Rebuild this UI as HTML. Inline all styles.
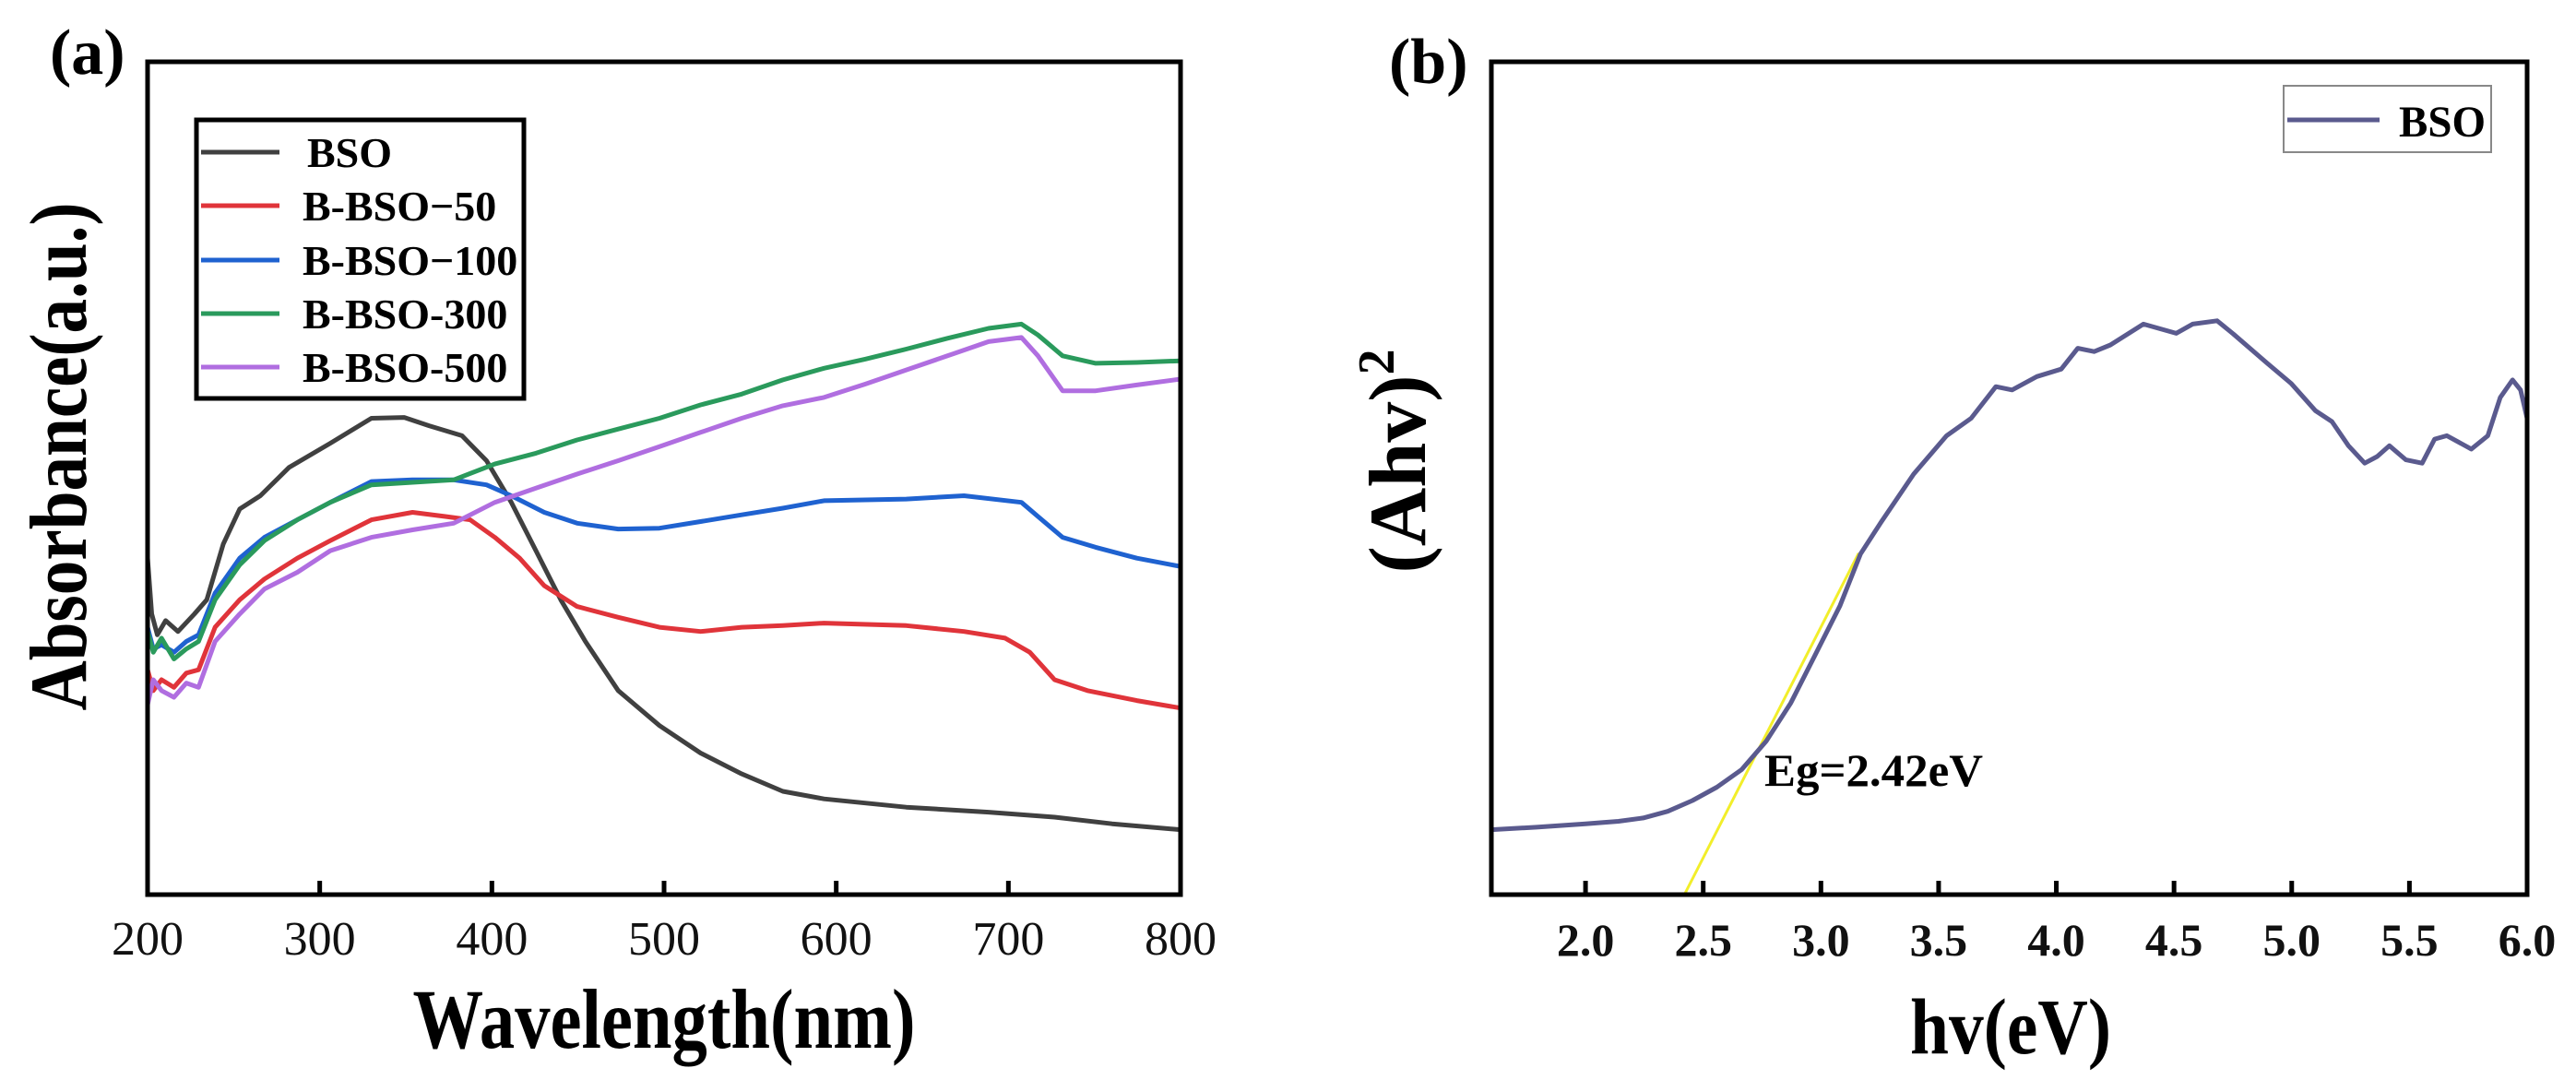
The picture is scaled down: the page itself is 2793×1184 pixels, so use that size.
<!DOCTYPE html>
<html><head><meta charset="utf-8"><style>
html,body{margin:0;padding:0;background:#fff;}
svg{display:block;}
text{font-family:"Liberation Serif",serif;}
</style></head><body>
<svg id="fig" width="2793" height="1184" viewBox="0 0 2793 1184" xmlns="http://www.w3.org/2000/svg">
<rect width="2793" height="1184" fill="#fff"/>
<g id="pa"></g>
<g id="pb"></g>
</svg>
<script>
// ---- Panel (a) data ----
const aSeriesNames = ["BSO","B-BSO\u221250","B-BSO\u2212100","B-BSO-300","B-BSO-500"];
const aColors = ["#404040","#e0343a","#1f62d0","#2a9a5c","#b06ee0"];
const aTicks = [200,300,400,500,600,700,800];
const bsoX = [200,202.4,205.7,210.5,217.7,227.2,234.4,244,253.5,265.5,282.2,306.1,330,349.1,363.5,382.6,396.9,411.3,425.6,440,454.3,473.4,497.3,521.2,545.1,569,592.9,640.7,688.5,726.8,760.2,800];
const bsoY = [40.4,33.7,31.2,32.9,31.6,33.7,35.4,42.1,46.3,47.9,51.3,54.2,57.2,57.3,56.3,55.1,52.1,47.1,41.3,35.4,30.4,24.5,20.3,17.0,14.5,12.4,11.5,10.5,9.9,9.3,8.5,7.8];
const b50X = [200,203.3,208.1,215.3,222.5,229.6,239.2,253.5,267.9,287,306.1,330,353.9,373,387.4,401.7,416.1,430.4,449.5,473.4,497.3,521.2,545.1,569,592.9,640.7,674.2,698.1,712.4,726.8,745.9,774.6,800];
const b50Y = [27.0,24.5,25.8,24.9,26.6,27.0,32.1,35.4,37.9,40.4,42.5,45.0,45.9,45.4,45.0,42.9,40.4,37.1,34.6,33.3,32.1,31.6,32.1,32.3,32.6,32.3,31.6,30.8,29.1,25.8,24.5,23.3,22.4];
const b100X = [200,203.3,208.1,215.3,222.5,229.6,239.2,253.5,267.9,287,306.1,330,353.9,377.8,396.9,411.3,430.4,449.5,473.4,497.3,521.2,545.1,569,592.9,640.7,674.2,707.6,717.2,731.5,750.7,774.6,800];
const b100Y = [32.1,29.5,30.0,29.1,30.4,31.2,36.2,40.4,42.9,45.0,47.1,49.6,49.8,49.8,49.2,47.9,45.9,44.6,43.9,44.0,44.8,45.6,46.4,47.3,47.5,47.9,47.1,45.4,42.9,41.7,40.4,39.4];
const b300X = [200,203.3,208.1,215.3,222.5,229.6,239.2,253.5,267.9,287,306.1,330,353.9,377.8,401.7,425.6,449.5,473.4,497.3,521.2,545.1,569,592.9,616.8,640.7,664.6,688.5,707.6,717.2,731.5,750.7,774.6,800];
const b300Y = [31.6,29.1,30.8,28.3,29.5,30.4,35.4,39.6,42.5,45.0,47.1,49.2,49.5,49.8,51.7,53.0,54.6,55.9,57.2,58.8,60.1,61.8,63.2,64.3,65.5,66.8,68.0,68.5,67.2,64.7,63.8,63.9,64.1];
const b500X = [200,203.3,208.1,215.3,222.5,229.6,239.2,253.5,267.9,287,306.1,330,353.9,377.8,401.7,425.6,449.5,473.4,497.3,521.2,545.1,569,592.9,616.8,640.7,664.6,688.5,707.6,717.2,731.5,750.7,774.6,800];
const b500Y = [22.8,25.8,24.5,23.7,25.4,24.9,30.4,33.7,36.7,38.7,41.3,42.9,43.8,44.6,47.1,48.8,50.5,52.1,53.8,55.5,57.2,58.7,59.7,61.3,63.0,64.7,66.4,66.9,64.7,60.5,60.5,61.2,61.9];

// ---- Panel (b) data ----
const bTicks = [2.0,2.5,3.0,3.5,4.0,4.5,5.0,5.5,6.0];
const taucX = [1.6,1.792,2.0,2.14,2.245,2.349,2.454,2.558,2.663,2.767,2.872,2.976,3.081,3.168,3.255,3.394,3.534,3.638,3.743,3.812,3.917,4.021,4.091,4.161,4.230,4.370,4.509,4.579,4.683,4.753,4.892,4.997,5.101,5.171,5.241,5.310,5.363,5.415,5.485,5.554,5.607,5.659,5.763,5.833,5.886,5.938,5.972,6.0];
const taucY = [7.8,8.1,8.5,8.8,9.2,10.0,11.3,12.9,15.0,18.4,23.0,28.8,34.7,40.9,44.7,50.5,55.1,57.2,61.0,60.6,62.2,63.1,65.6,65.2,66.0,68.5,67.4,68.5,68.9,67.3,63.9,61.4,58.1,56.8,53.9,51.8,52.6,53.9,52.2,51.8,54.7,55.1,53.5,55.1,59.7,61.8,60.6,57.2];
const fitX = [2.42,3.16];
const fitY = [0,41];
const egLabel = "Eg=2.42eV";

const NS="http://www.w3.org/2000/svg";
function mk(parent,tag,attrs,txt){const e=document.createElementNS(NS,tag);for(const k in attrs)e.setAttribute(k,attrs[k]);if(txt!==undefined)e.textContent=txt;parent.appendChild(e);return e;}

// Panel a axes
const aL=160,aR=1280,aT=67,aB=970;
const ax=v=>aL+(v-200)/600*(aR-aL);
const ay=v=>aB-v/100*(aB-aT);
const pa=document.getElementById('pa');
const aData=[[bsoX,bsoY],[b50X,b50Y],[b100X,b100Y],[b300X,b300Y],[b500X,b500Y]];
aData.forEach((d,i)=>{
  const p=d[0].map((x,j)=>ax(x).toFixed(1)+','+ay(d[1][j]).toFixed(1)).join(' ');
  const el=mk(pa,'polyline',{points:p,fill:'none',stroke:aColors[i],'stroke-width':5,'stroke-linejoin':'round'});
  
  
});
const fa=mk(pa,'rect',{x:aL,y:aT,width:aR-aL,height:aB-aT,fill:'none',stroke:'#000','stroke-width':5});


aTicks.forEach(t=>{
  const tk=mk(pa,'line',{x1:ax(t),x2:ax(t),y1:aB,y2:aB-15,stroke:'#000','stroke-width':5});
  
  
  const tl=mk(pa,'text',{x:ax(t),y:1035,'font-size':52,'text-anchor':'middle',fill:'#111'},String(t));
  
  
});
// legend a
const lga=mk(pa,'g',{});


mk(lga,'rect',{x:213,y:130,width:355,height:302,fill:'#fff',stroke:'#000','stroke-width':5});
const rowsY=[165,223,282,340,398];
aSeriesNames.forEach((n,i)=>{
  const g=mk(lga,'g',{});
  
  
  mk(g,'line',{x1:218,x2:303,y1:rowsY[i],y2:rowsY[i],stroke:aColors[i],'stroke-width':5});
  mk(g,'text',{x:i===0?333:328,y:rowsY[i]+16,'font-size':46,'font-weight':'bold',fill:'#000'},n);
});
const ta=mk(pa,'text',{x:720,y:1136,'font-size':92,'font-weight':'bold','text-anchor':'middle',textLength:545,lengthAdjust:'spacingAndGlyphs'},'Wavelength(nm)');


const ya=mk(pa,'text',{x:0,y:0,'font-size':88,'font-weight':'bold','text-anchor':'middle',transform:'translate(93,495) rotate(-90)',textLength:551,lengthAdjust:'spacingAndGlyphs'},'Absorbance(a.u.)');


const la=mk(pa,'text',{x:54,y:80,'font-size':70,'font-weight':'bold'},'(a)');



// Panel b
const bL=1617,bR=2740,bT=67,bB=970;
const bx=v=>bL+(v-1.6)/4.4*(bR-bL);
const by=v=>bB-v/100*(bB-bT);
const pb=document.getElementById('pb');
const fitEl=mk(pb,'polyline',{points:fitX.map((x,j)=>bx(x).toFixed(1)+','+by(fitY[j]).toFixed(1)).join(' '),fill:'none',stroke:'#f2ee2a','stroke-width':3});


const tc=mk(pb,'polyline',{points:taucX.map((x,j)=>bx(x).toFixed(1)+','+by(taucY[j]).toFixed(1)).join(' '),fill:'none',stroke:'#5a5a8e','stroke-width':5,'stroke-linejoin':'round'});


const fb=mk(pb,'rect',{x:bL,y:bT,width:bR-bL,height:bB-bT,fill:'none',stroke:'#000','stroke-width':5});


bTicks.forEach(t=>{
  const tk=mk(pb,'line',{x1:bx(t),x2:bx(t),y1:bB,y2:bB-15,stroke:'#000','stroke-width':5});
  
  
  const tl=mk(pb,'text',{x:bx(t),y:1036,'font-size':50,'font-weight':'bold','text-anchor':'middle',fill:'#111'},t.toFixed(1));
  
  
});
const eg=mk(pb,'text',{x:1913,y:852,'font-size':50,'font-weight':'bold',textLength:237,lengthAdjust:'spacingAndGlyphs'},egLabel);


const lgb=mk(pb,'g',{});


mk(lgb,'rect',{x:2476,y:93,width:225,height:72,fill:'#fff',stroke:'#888','stroke-width':2});
mk(lgb,'line',{x1:2480,x2:2580,y1:130,y2:130,stroke:'#5a5a8e','stroke-width':5});
mk(lgb,'text',{x:2601,y:148,'font-size':48,'font-weight':'bold',textLength:94,lengthAdjust:'spacingAndGlyphs'},'BSO');
const tb=mk(pb,'text',{x:2180,y:1142,'font-size':86,'font-weight':'bold','text-anchor':'middle',textLength:218,lengthAdjust:'spacingAndGlyphs'},'hv(eV)');


const yb=mk(pb,'text',{x:0,y:0,'font-size':88,'font-weight':'bold','text-anchor':'middle',transform:'translate(1545,500) rotate(-90)'});


mk(yb,'tspan',{},'(Ahv)');
mk(yb,'tspan',{dy:-34,'font-size':56},'2');
const lb=mk(pb,'text',{x:1506,y:90,'font-size':70,'font-weight':'bold'},'(b)');


</script>
</body></html>
